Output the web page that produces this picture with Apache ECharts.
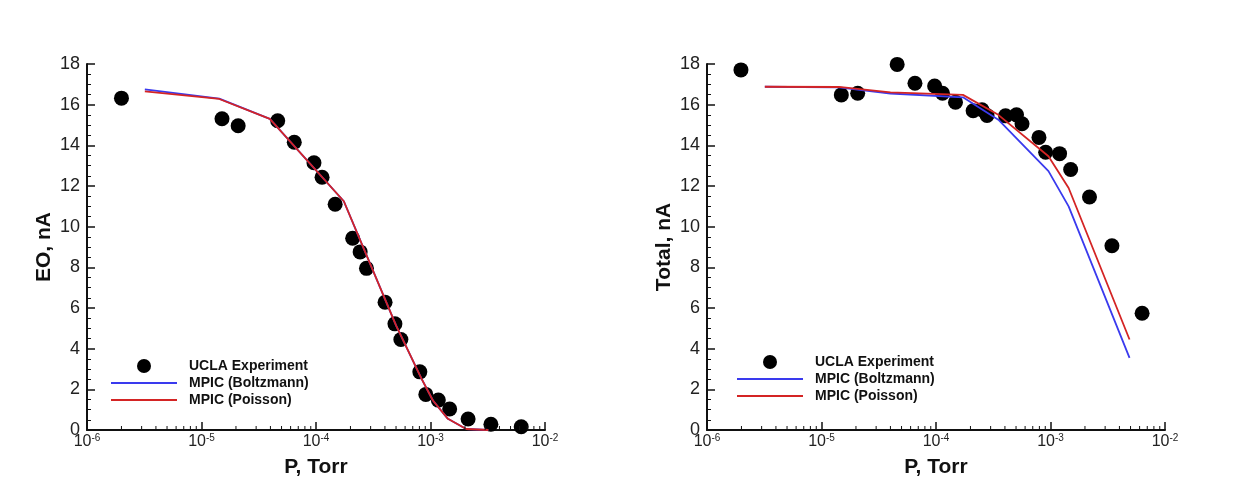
<!DOCTYPE html>
<html>
<head>
<meta charset="utf-8">
<script src="https://cdn.jsdelivr.net/npm/echarts@6/dist/echarts.min.js"></script>
<style>
  html, body { margin: 0; padding: 0; background: #ffffff; }
  #chart { width: 1236px; height: 483px; }
</style>
</head>
<body>
<div id="chart"></div>
<script>
// Pressure (Torr) and measured / simulated EO current (nA)
const pExpEO = [2.0e-6, 1.51e-5, 2.09e-5, 4.63e-5, 6.46e-5, 9.6e-5, 1.13e-4, 1.47e-4, 2.09e-4, 2.43e-4, 2.76e-4,
                4.01e-4, 4.89e-4, 5.51e-4, 8.07e-4, 9.1e-4, 1.17e-3, 1.47e-3, 2.13e-3, 3.37e-3, 6.2e-3];
const eoExp = [16.32, 15.31, 14.96, 15.21, 14.15, 13.14, 12.43, 11.10, 9.43, 8.76, 7.95,
               6.28, 5.22, 4.45, 2.86, 1.75, 1.47, 1.03, 0.54, 0.28, 0.16];
const pSimEO = [3.2e-6, 1.43e-5, 3.95e-5, 1.75e-4, 5.0e-4, 8.3e-4, 1.05e-3, 1.42e-3, 2.05e-3, 3.2e-3];
const eoBoltz = [16.75, 16.30, 15.30, 11.25, 5.15, 2.55, 1.45, 0.55, 0.05, 0.0];
const eoPoisson = [16.65, 16.28, 15.30, 11.25, 5.15, 2.55, 1.45, 0.55, 0.05, 0.0];

// Pressure (Torr) and measured / simulated total current (nA)
const pExpTot = [1.98e-6, 1.49e-5, 2.07e-5, 4.58e-5, 6.55e-5, 9.73e-5, 1.14e-4, 1.48e-4, 2.11e-4, 2.52e-4, 2.79e-4,
                 4.05e-4, 5.05e-4, 5.64e-4, 7.93e-4, 9.07e-4, 1.20e-3, 1.50e-3, 2.19e-3, 3.44e-3, 6.31e-3];
const totExp = [17.71, 16.48, 16.56, 17.98, 17.05, 16.92, 16.56, 16.12, 15.70, 15.75, 15.47,
                15.45, 15.50, 15.06, 14.39, 13.66, 13.59, 12.81, 11.46, 9.06, 5.74];
const pSimTot = [3.2e-6, 1.42e-5, 4.0e-5, 1.72e-4, 3.5e-4, 9.6e-4, 1.44e-3, 4.9e-3];
const totBoltz = [16.88, 16.85, 16.55, 16.36, 15.26, 12.73, 11.00, 3.55];
const totPoisson = [16.88, 16.87, 16.60, 16.48, 15.50, 13.46, 11.90, 4.45];

// Axis ranges and titles
const xMin = 1e-6, xMax = 1e-2;
const yMin = 0, yMax = 18, yStep = 2;
const xTitle = 'P, Torr';
const yTitles = ['EO, nA', 'Total, nA'];
const legendNames = ['UCLA Experiment', 'MPIC (Boltzmann)', 'MPIC (Poisson)'];

const FONT = '"Liberation Sans", Arial, Helvetica, sans-serif';
const INK = '#111111';
const BLUE = '#3a3aee';
const RED = '#d42424';

// minor ticks of the log axis at 2..9 within each decade
const minorTicks = [];
for (let e = Math.round(Math.log10(xMin)); e < Math.round(Math.log10(xMax)); e++) {
  for (let k = 2; k <= 9; k++) minorTicks.push([k * Math.pow(10, e), 0]);
}

const zip = (xs, ys) => xs.map((x, i) => [x, ys[i]]);

const chart = echarts.init(document.getElementById('chart'), null, { renderer: 'canvas' });

const grids = [
  { left: 87, top: 64, width: 458, height: 368 },
  { left: 707, top: 64, width: 458, height: 368 }
];

function xAxis(i) {
  return {
    type: 'log', logBase: 10, gridIndex: i, min: xMin, max: xMax,
    name: xTitle, nameLocation: 'middle', nameGap: 27,
    nameTextStyle: { fontFamily: FONT, fontSize: 21, fontWeight: 'bold', color: INK },
    axisLine: { show: true, lineStyle: { color: INK, width: 2 } },
    axisTick: { show: true, inside: true, length: 8, lineStyle: { color: INK, width: 1.5 } },
    minorTick: { show: false },
    splitLine: { show: false },
    axisLabel: {
      margin: 3, color: '#222',
      formatter: v => '{b|10}{s|' + Math.round(Math.log10(v)) + '}',
      rich: {
        b: { fontFamily: FONT, fontSize: 16, lineHeight: 18, color: '#222' },
        s: { fontFamily: FONT, fontSize: 10, lineHeight: 10, verticalAlign: 'top', color: '#222' }
      }
    }
  };
}

function yAxis(i) {
  return {
    type: 'value', gridIndex: i, min: yMin, max: yMax, interval: yStep,
    name: yTitles[i], nameLocation: 'middle', nameGap: 32,
    nameTextStyle: { fontFamily: FONT, fontSize: 21, fontWeight: 'bold', color: INK },
    axisLine: { show: true, lineStyle: { color: INK, width: 2 } },
    axisTick: { show: true, inside: true, length: 8, lineStyle: { color: INK, width: 1.5 } },
    minorTick: { show: true, splitNumber: 4, length: 4, lineStyle: { color: INK, width: 1 } },
    splitLine: { show: false },
    axisLabel: { margin: 7, fontFamily: FONT, fontSize: 18, color: '#222' }
  };
}

function panelSeries(i, pExp, yExp, pSim, yB, yP) {
  return [
    {
      name: legendNames[0], type: 'scatter', xAxisIndex: i, yAxisIndex: i,
      data: zip(pExp, yExp), symbol: 'circle', symbolSize: 15,
      itemStyle: { color: '#000000', opacity: 1 }, z: 2
    },
    {
      name: legendNames[1], type: 'line', xAxisIndex: i, yAxisIndex: i,
      data: zip(pSim, yB), symbol: 'none', showSymbol: false,
      lineStyle: { color: BLUE, width: 1.8 }, itemStyle: { color: BLUE }, z: 3
    },
    {
      name: legendNames[2], type: 'line', xAxisIndex: i, yAxisIndex: i,
      data: zip(pSim, yP), symbol: 'none', showSymbol: false,
      lineStyle: { color: RED, width: 1.8 }, itemStyle: { color: RED }, z: 4
    },
    {
      type: 'custom', xAxisIndex: i, yAxisIndex: i, silent: true, z: 5,
      data: minorTicks,
      renderItem: (params, api) => {
        const p = api.coord([api.value(0), 0]);
        return {
          type: 'line',
          shape: { x1: p[0], y1: p[1], x2: p[0], y2: p[1] - 4 },
          style: { stroke: INK, lineWidth: 1 }
        };
      }
    }
  ];
}

// thin bar used as the legend key of the two model curves
const LINE_ICON = 'path://M0,0H66V2H0Z';

function legend(left, top) {
  return {
    orient: 'vertical', left: left, top: top,
    itemWidth: 66, itemHeight: 14, itemGap: 3,
    symbolKeepAspect: true,
    selectedMode: false,
    data: [
      { name: legendNames[0], icon: 'circle', itemStyle: { color: '#000000', opacity: 1 } },
      { name: legendNames[1], icon: LINE_ICON, itemStyle: { color: BLUE } },
      { name: legendNames[2], icon: LINE_ICON, itemStyle: { color: RED } }
    ],
    textStyle: { fontFamily: FONT, fontSize: 14, lineHeight: 14, fontWeight: 'bold', color: INK, padding: [0, 0, 0, 7] }
  };
}

chart.setOption({
  backgroundColor: '#ffffff',
  animation: false,
  grid: grids,
  xAxis: [xAxis(0), xAxis(1)],
  yAxis: [yAxis(0), yAxis(1)],
  legend: [legend(106, 354), legend(732, 350)],
  series: [
    ...panelSeries(0, pExpEO, eoExp, pSimEO, eoBoltz, eoPoisson),
    ...panelSeries(1, pExpTot, totExp, pSimTot, totBoltz, totPoisson)
  ]
});
</script>
</body>
</html>
